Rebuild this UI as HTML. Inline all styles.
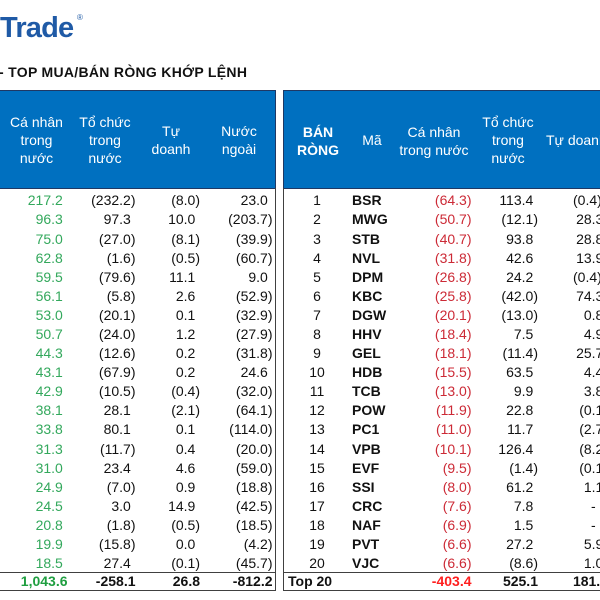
<!DOCTYPE html>
<html><head><meta charset="utf-8">
<style>
html,body{margin:0;padding:0;}
body{width:600px;height:600px;overflow:hidden;position:relative;background:#fff;font-family:"Liberation Sans",Arial,sans-serif;font-size:14px;color:#111;}
.a{position:absolute;white-space:nowrap;}
.row{position:absolute;left:0;width:600px;height:16px;line-height:16px;}
.row span{position:absolute;top:0;white-space:nowrap;}
.c1{right:532.5px;color:#33a85c;}
.c2{right:464.5px;}
.c3{right:400px;}
.c4{right:327.5px;}
.rn{left:297px;width:40px;text-align:center;}
.rc{left:352px;font-weight:bold;}
.r1{right:128.5px;color:#cc2a36;}
.r2{right:62px;}
.r3{right:-8px;}
.p{padding-right:4.7px;}
.hd{position:absolute;color:#fff;text-align:center;line-height:18px;white-space:nowrap;}
.tot span{font-weight:bold;}
</style></head><body>

<div class="a" style="left:0;top:13.6px;font-size:29px;line-height:29px;font-weight:bold;color:#1f5aa6;letter-spacing:-0.8px;">Trade</div>
<div class="a" style="left:77px;top:14px;font-size:8px;line-height:8px;color:#1f5aa6;">®</div>

<div class="a" style="left:-1px;top:64px;font-size:14px;line-height:16px;font-weight:bold;color:#111;letter-spacing:0.3px;">- TOP MUA/BÁN RÒNG KHỚP LỆNH</div>

<!-- header boxes -->
<div class="a" style="left:-2px;top:90px;width:276px;height:97px;background:#0070c0;border:1px solid #1f3864;"></div>
<div class="a" style="left:283px;top:90px;width:330px;height:97px;background:#0070c0;border:1px solid #1f3864;"></div>

<!-- left headers -->
<div class="hd" style="left:0;width:73px;top:113px;">Cá nhân<br>trong<br>nước</div>
<div class="hd" style="left:70px;width:70px;top:113px;">Tổ chức<br>trong<br>nước</div>
<div class="hd" style="left:141px;width:60px;top:122px;">Tự<br>doanh</div>
<div class="hd" style="left:204px;width:70px;top:122px;">Nước<br>ngoài</div>

<!-- right headers -->
<div class="hd" style="left:288px;width:60px;top:123px;font-weight:bold;">BÁN<br>RÒNG</div>
<div class="hd" style="left:352px;width:40px;top:131px;">Mã</div>
<div class="hd" style="left:394px;width:80px;top:123px;">Cá nhân<br>trong nước</div>
<div class="hd" style="left:473px;width:70px;top:113px;">Tổ chức<br>trong<br>nước</div>
<div class="hd" style="left:546px;top:131px;text-align:left;">Tự doanh</div>

<!-- body borders -->
<div class="a" style="left:275px;top:188px;width:1px;height:403px;background:#404040;"></div>
<div class="a" style="left:283px;top:188px;width:1px;height:403px;background:#404040;"></div>
<div class="a" style="left:0;top:572px;width:276px;height:1px;background:#404040;"></div>
<div class="a" style="left:0;top:590px;width:276px;height:1px;background:#404040;"></div>
<div class="a" style="left:283px;top:572px;width:317px;height:1px;background:#404040;"></div>
<div class="a" style="left:283px;top:590px;width:317px;height:1px;background:#404040;"></div>

<!-- rows -->
<div class="row" style="top:192.3px"><span class="c1 p">217.2</span><span class="c2">(232.2)</span><span class="c3">(8.0)</span><span class="c4 p">23.0</span><span class="rn">1</span><span class="rc">BSR</span><span class="r1">(64.3)</span><span class="r2 p">113.4</span><span style="left:573px">(0.4)</span></div>
<div class="row" style="top:211.4px"><span class="c1 p">96.3</span><span class="c2 p">97.3</span><span class="c3 p">10.0</span><span class="c4">(203.7)</span><span class="rn">2</span><span class="rc">MWG</span><span class="r1">(50.7)</span><span class="r2">(12.1)</span><span class="r3 p">28.3</span></div>
<div class="row" style="top:230.5px"><span class="c1 p">75.0</span><span class="c2">(27.0)</span><span class="c3">(8.1)</span><span class="c4">(39.9)</span><span class="rn">3</span><span class="rc">STB</span><span class="r1">(40.7)</span><span class="r2 p">93.8</span><span class="r3 p">28.8</span></div>
<div class="row" style="top:249.6px"><span class="c1 p">62.8</span><span class="c2">(1.6)</span><span class="c3">(0.5)</span><span class="c4">(60.7)</span><span class="rn">4</span><span class="rc">NVL</span><span class="r1">(31.8)</span><span class="r2 p">42.6</span><span class="r3 p">13.9</span></div>
<div class="row" style="top:268.7px"><span class="c1 p">59.5</span><span class="c2">(79.6)</span><span class="c3 p">11.1</span><span class="c4 p">9.0</span><span class="rn">5</span><span class="rc">DPM</span><span class="r1">(26.8)</span><span class="r2 p">24.2</span><span style="left:573px">(0.4)</span></div>
<div class="row" style="top:287.8px"><span class="c1 p">56.1</span><span class="c2">(5.8)</span><span class="c3 p">2.6</span><span class="c4">(52.9)</span><span class="rn">6</span><span class="rc">KBC</span><span class="r1">(25.8)</span><span class="r2">(42.0)</span><span class="r3 p">74.3</span></div>
<div class="row" style="top:306.8px"><span class="c1 p">53.0</span><span class="c2">(20.1)</span><span class="c3 p">0.1</span><span class="c4">(32.9)</span><span class="rn">7</span><span class="rc">DGW</span><span class="r1">(20.1)</span><span class="r2">(13.0)</span><span class="r3 p">0.8</span></div>
<div class="row" style="top:325.9px"><span class="c1 p">50.7</span><span class="c2">(24.0)</span><span class="c3 p">1.2</span><span class="c4">(27.9)</span><span class="rn">8</span><span class="rc">HHV</span><span class="r1">(18.4)</span><span class="r2 p">7.5</span><span class="r3 p">4.9</span></div>
<div class="row" style="top:345.0px"><span class="c1 p">44.3</span><span class="c2">(12.6)</span><span class="c3 p">0.2</span><span class="c4">(31.8)</span><span class="rn">9</span><span class="rc">GEL</span><span class="r1">(18.1)</span><span class="r2">(11.4)</span><span class="r3 p">25.7</span></div>
<div class="row" style="top:364.1px"><span class="c1 p">43.1</span><span class="c2">(67.9)</span><span class="c3 p">0.2</span><span class="c4 p">24.6</span><span class="rn">10</span><span class="rc">HDB</span><span class="r1">(15.5)</span><span class="r2 p">63.5</span><span class="r3 p">4.4</span></div>
<div class="row" style="top:383.2px"><span class="c1 p">42.9</span><span class="c2">(10.5)</span><span class="c3">(0.4)</span><span class="c4">(32.0)</span><span class="rn">11</span><span class="rc">TCB</span><span class="r1">(13.0)</span><span class="r2 p">9.9</span><span class="r3 p">3.8</span></div>
<div class="row" style="top:402.3px"><span class="c1 p">38.1</span><span class="c2 p">28.1</span><span class="c3">(2.1)</span><span class="c4">(64.1)</span><span class="rn">12</span><span class="rc">POW</span><span class="r1">(11.9)</span><span class="r2 p">22.8</span><span class="r3">(0.1)</span></div>
<div class="row" style="top:421.4px"><span class="c1 p">33.8</span><span class="c2 p">80.1</span><span class="c3 p">0.1</span><span class="c4">(114.0)</span><span class="rn">13</span><span class="rc">PC1</span><span class="r1">(11.0)</span><span class="r2 p">11.7</span><span class="r3">(2.7)</span></div>
<div class="row" style="top:440.5px"><span class="c1 p">31.3</span><span class="c2">(11.7)</span><span class="c3 p">0.4</span><span class="c4">(20.0)</span><span class="rn">14</span><span class="rc">VPB</span><span class="r1">(10.1)</span><span class="r2 p">126.4</span><span class="r3">(8.2)</span></div>
<div class="row" style="top:459.6px"><span class="c1 p">31.0</span><span class="c2 p">23.4</span><span class="c3 p">4.6</span><span class="c4">(59.0)</span><span class="rn">15</span><span class="rc">EVF</span><span class="r1">(9.5)</span><span class="r2">(1.4)</span><span class="r3">(0.1)</span></div>
<div class="row" style="top:478.7px"><span class="c1 p">24.9</span><span class="c2">(7.0)</span><span class="c3 p">0.9</span><span class="c4">(18.8)</span><span class="rn">16</span><span class="rc">SSI</span><span class="r1">(8.0)</span><span class="r2 p">61.2</span><span class="r3 p">1.1</span></div>
<div class="row" style="top:497.7px"><span class="c1 p">24.5</span><span class="c2 p">3.0</span><span class="c3 p">14.9</span><span class="c4">(42.5)</span><span class="rn">17</span><span class="rc">CRC</span><span class="r1">(7.6)</span><span class="r2 p">7.8</span><span style="left:591px">-</span></div>
<div class="row" style="top:516.8px"><span class="c1 p">20.8</span><span class="c2">(1.8)</span><span class="c3">(0.5)</span><span class="c4">(18.5)</span><span class="rn">18</span><span class="rc">NAF</span><span class="r1">(6.9)</span><span class="r2 p">1.5</span><span style="left:591px">-</span></div>
<div class="row" style="top:535.9px"><span class="c1 p">19.9</span><span class="c2">(15.8)</span><span class="c3 p">0.0</span><span class="c4">(4.2)</span><span class="rn">19</span><span class="rc">PVT</span><span class="r1">(6.6)</span><span class="r2 p">27.2</span><span class="r3 p">5.9</span></div>
<div class="row" style="top:555.0px"><span class="c1 p">18.5</span><span class="c2 p">27.4</span><span class="c3">(0.1)</span><span class="c4">(45.7)</span><span class="rn">20</span><span class="rc">VJC</span><span class="r1">(6.6)</span><span class="r2">(8.6)</span><span class="r3 p">1.0</span></div>
<div class="row tot" style="top:573.3px"><span class="c1" style="color:#1f9e40;">1,043.6</span><span class="c2">-258.1</span><span class="c3">26.8</span><span class="c4">-812.2</span><span style="left:288px">Top 20</span><span class="r1" style="color:#ff1f1f;">-403.4</span><span class="r2">525.1</span><span class="r3">181.6</span></div>

</body></html>
